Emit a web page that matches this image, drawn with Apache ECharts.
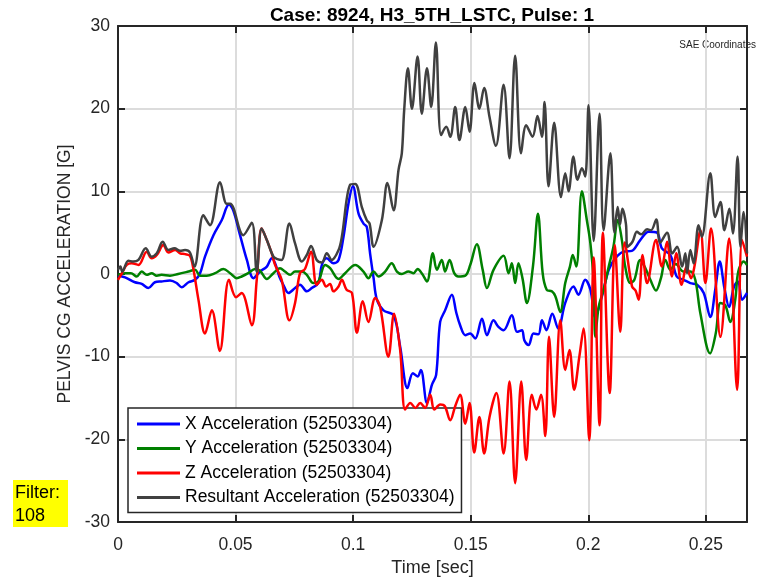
<!DOCTYPE html>
<html>
<head>
<meta charset="utf-8">
<script src="https://cdn.jsdelivr.net/npm/echarts@6/dist/echarts.min.js"></script>
<style>
  html, body { margin: 0; padding: 0; background: #ffffff; }
  #chart { width: 757px; height: 582px; }
</style>
</head>
<body>
<div id="chart"></div>
<script>
// Pelvis CG acceleration channels, [time (s), acceleration (G)]
const xAccel = [
  [0,-0.2],[0.003,-0.4],[0.0072,-1.0],[0.0101,-1.2],[0.0129,-1.7],[0.0157,-1.0],[0.0185,-0.9],
  [0.0221,-0.8],[0.025,-1.1],[0.0271,-1.6],[0.03,-1.0],[0.0328,-0.7],[0.0349,0.1],[0.037,2.1],
  [0.0406,4.7],[0.0441,6.5],[0.0472,8.4],[0.049,7.7],[0.0519,4.7],[0.0548,1.7],[0.0576,-0.5],
  [0.0604,0.3],[0.0633,0.9],[0.0654,1.9],[0.0668,1.3],[0.0686,-0.3],[0.0703,-1.3],[0.0725,-2.3],
  [0.0753,-1.7],[0.0774,-1.3],[0.0803,-2.1],[0.0824,-1.7],[0.0852,-1.1],[0.0867,1.1],[0.0888,1.9],
  [0.0916,1.3],[0.0938,1.7],[0.0959,4.5],[0.098,8.5],[0.0999,10.6],[0.1023,7.3],[0.1044,6.1],
  [0.1058,5.7],[0.1072,2.5],[0.1087,-0.5],[0.1101,-3.1],[0.1129,-4.4],[0.1172,-5.0],[0.12,-8.8],
  [0.1231,-13.8],[0.1254,-12.0],[0.1274,-12.4],[0.1288,-11.6],[0.1314,-15.6],[0.1335,-13.4],
  [0.1353,-12.2],[0.137,-5.8],[0.1391,-4.4],[0.142,-2.5],[0.1438,-4.6],[0.1455,-6.2],[0.1477,-7.4],
  [0.1498,-7.2],[0.1519,-7.8],[0.1548,-5.4],[0.1569,-7.4],[0.1597,-5.6],[0.1618,-6.4],[0.164,-6.8],
  [0.1675,-5.0],[0.1697,-7.0],[0.1718,-6.8],[0.1728,-8.0],[0.1746,-8.6],[0.1767,-7.2],[0.1788,-7.3],
  [0.1803,-5.6],[0.1822,-6.8],[0.1847,-4.8],[0.1872,-6.6],[0.1902,-3.5],[0.1937,-1.5],[0.1958,-2.5],
  [0.1987,-0.7],[0.2009,-1.9],[0.203,-5.2],[0.2058,-2.7],[0.2087,0.5],[0.2115,1.9],[0.215,2.7],
  [0.2185,2.8],[0.2221,4.1],[0.2257,5.1],[0.2292,5.0],[0.2313,3.1],[0.2349,2.3],[0.2376,-0.3],
  [0.2405,-0.7],[0.2434,-1.1],[0.2463,-1.3],[0.2491,-2.3],[0.2519,-5.2],[0.254,-1.9],[0.2559,1.5],
  [0.2579,-1.7],[0.2599,-4.0],[0.262,-1.5],[0.2637,-0.9],[0.2654,-3.1],[0.2675,-2.3]
];

const yAccel = [
  [0,-0.1],[0.003,0.1],[0.0055,0.1],[0.008,-0.3],[0.0101,0.3],[0.0122,-0.1],[0.0143,0.1],
  [0.0165,-0.2],[0.0185,-0.1],[0.0221,-0.2],[0.0256,0.0],[0.03,0.3],[0.0328,0.5],[0.0349,-0.2],
  [0.0377,-0.2],[0.0413,0.1],[0.0448,0.6],[0.0477,0.1],[0.0505,-0.5],[0.0526,-0.3],[0.0554,0.1],
  [0.0583,0.6],[0.0604,0.4],[0.0633,-0.6],[0.0661,0.1],[0.0689,0.7],[0.071,0.3],[0.0732,-0.1],
  [0.0753,0.3],[0.0782,0.3],[0.0803,-0.1],[0.0831,-1.1],[0.0852,-0.9],[0.0881,1.1],[0.0902,0.7],
  [0.0938,-0.6],[0.0966,0.1],[0.1009,1.1],[0.1044,0.3],[0.1065,-0.5],[0.1087,0.3],[0.1108,-0.3],
  [0.1136,0.3],[0.1164,1.3],[0.1186,0.3],[0.1207,0.0],[0.1235,0.3],[0.1257,0.1],[0.1274,0.6],
  [0.1294,0.0],[0.1314,-0.9],[0.1339,2.5],[0.1356,0.5],[0.1377,1.7],[0.1391,0.3],[0.141,1.7],
  [0.143,0.1],[0.1447,-0.3],[0.1477,-0.2],[0.1498,1.1],[0.1526,3.6],[0.1551,0.5],[0.1569,-1.7],
  [0.1597,0.5],[0.164,2.2],[0.1661,0.1],[0.1675,1.3],[0.1689,-1.1],[0.1703,1.3],[0.172,-0.5],
  [0.1739,-3.5],[0.1765,1.0],[0.1786,7.3],[0.1806,0.1],[0.1823,-1.9],[0.1845,-2.1],[0.186,-2.7],
  [0.1881,-4.6],[0.1902,-1.1],[0.1922,0.9],[0.1934,2.3],[0.1949,0.9],[0.1973,10.0],[0.1994,6.5],
  [0.2009,3.7],[0.2023,-1.1],[0.203,-7.6],[0.2044,-4.0],[0.2065,-1.9],[0.2087,0.9],[0.2107,3.3],
  [0.2125,6.5],[0.2143,4.1],[0.2157,0.9],[0.2179,-1.1],[0.2196,-0.7],[0.2221,1.7],[0.2243,0.7],
  [0.2264,-0.7],[0.2288,-2.0],[0.2309,-0.5],[0.2328,1.7],[0.2349,0.5],[0.2372,1.2],[0.2405,0.3],
  [0.2434,0.3],[0.2455,-0.7],[0.2477,-4.8],[0.2518,-9.6],[0.2542,-7.2],[0.2562,-3.5],[0.2583,-3.8],
  [0.2604,-5.8],[0.2625,-3.1],[0.2638,0.3],[0.2661,1.5],[0.2675,1.1]
];

const zAccel = [
  [0,-0.7],[0.0017,0.1],[0.0037,1.1],[0.0058,1.3],[0.0087,1.1],[0.0122,2.7],[0.0143,1.9],
  [0.0165,2.3],[0.0193,3.5],[0.0214,2.6],[0.0243,2.9],[0.0264,2.5],[0.0285,2.4],[0.0306,2.2],
  [0.032,0.7],[0.0342,-3.1],[0.037,-7.2],[0.0399,-4.4],[0.0433,-9.3],[0.0472,-0.7],[0.0502,-2.8],
  [0.0526,-2.3],[0.0569,-6.2],[0.059,-0.7],[0.0611,5.5],[0.0633,4.1],[0.0654,2.5],[0.0668,1.1],
  [0.0696,-0.7],[0.0729,-5.6],[0.0753,-3.5],[0.0774,0.1],[0.0795,0.6],[0.0821,2.7],[0.0845,-1.3],
  [0.0867,-0.7],[0.0885,-1.5],[0.0902,-1.2],[0.0916,-2.1],[0.0938,-1.5],[0.0952,-0.7],[0.0972,-1.9],
  [0.0995,-2.3],[0.1016,-7.1],[0.1041,-3.3],[0.1065,-5.8],[0.1094,-2.9],[0.1115,-4.0],[0.115,-10.0],
  [0.1174,-4.8],[0.12,-9.2],[0.1221,-16.4],[0.1243,-15.6],[0.1265,-16.2],[0.1285,-15.6],
  [0.1306,-16.2],[0.1328,-14.6],[0.1345,-16.4],[0.137,-15.8],[0.139,-16.0],[0.1413,-17.7],
  [0.1434,-16.0],[0.1455,-14.6],[0.1477,-18.1],[0.1495,-15.6],[0.1515,-21.6],[0.1537,-17.3],
  [0.1557,-21.7],[0.158,-17.3],[0.1609,-14.4],[0.164,-21.7],[0.1665,-13.0],[0.1689,-25.3],
  [0.1715,-13.0],[0.1736,-22.5],[0.176,-14.6],[0.1779,-16.4],[0.1799,-14.6],[0.1817,-19.6],
  [0.1833,-7.6],[0.1855,-17.3],[0.1881,-5.6],[0.1902,-11.6],[0.192,-9.2],[0.194,-14.0],
  [0.1962,-10.0],[0.198,-6.6],[0.2004,-20.1],[0.2023,2.0],[0.2048,-18.3],[0.2062,5.0],
  [0.2091,-14.4],[0.2113,3.5],[0.2136,-7.0],[0.2155,3.8],[0.2186,-1.5],[0.2201,-2.0],[0.2214,-3.1],
  [0.2231,2.3],[0.225,-1.1],[0.2288,4.1],[0.2313,0.9],[0.2335,3.9],[0.2356,-0.3],[0.2374,2.5],
  [0.2397,-1.3],[0.2418,0.9],[0.2437,-0.5],[0.2452,1.0],[0.2477,5.3],[0.2498,-1.1],[0.2522,5.5],
  [0.2562,-7.6],[0.2599,4.3],[0.2633,-14.0],[0.2654,4.1],[0.2675,2.1]
];

const resultantAccel = [
  [0,0.5],[0.001,0.9],[0.0018,0.3],[0.0044,1.6],[0.0065,1.5],[0.0087,1.7],[0.0118,3.1],[0.0143,2.1],
  [0.0165,2.5],[0.019,3.9],[0.0214,2.9],[0.024,3.1],[0.0264,2.8],[0.0285,2.9],[0.0306,2.6],
  [0.0325,0.9],[0.0363,7.1],[0.0391,5.9],[0.0434,11.1],[0.0462,8.5],[0.0477,8.5],[0.0533,4.7],
  [0.0569,6.2],[0.059,0.3],[0.0611,5.5],[0.0633,4.1],[0.0661,2.1],[0.0678,1.8],[0.0696,1.7],
  [0.0729,6.1],[0.0753,3.7],[0.0782,1.5],[0.0803,2.3],[0.0821,3.4],[0.0845,1.7],[0.0867,1.4],
  [0.0888,2.5],[0.0909,1.7],[0.0938,2.9],[0.0952,4.5],[0.0987,10.8],[0.1009,10.9],[0.1037,8.1],
  [0.1058,6.5],[0.107,6.1],[0.1087,3.3],[0.1122,6.5],[0.1146,11.0],[0.1172,7.7],[0.1193,12.6],
  [0.1207,14.6],[0.1217,19.8],[0.1233,24.9],[0.125,20.0],[0.1274,26.3],[0.1292,19.4],[0.1314,24.9],
  [0.1332,20.2],[0.1352,28.0],[0.1374,16.8],[0.1396,17.8],[0.1413,16.6],[0.1434,20.2],[0.1452,16.2],
  [0.1477,20.2],[0.1495,17.2],[0.1516,23.1],[0.1537,20.0],[0.1557,22.5],[0.158,19.0],[0.1607,15.5],
  [0.164,22.9],[0.1665,14.0],[0.1689,26.4],[0.1714,14.6],[0.1736,18.0],[0.1763,16.6],[0.1784,19.1],
  [0.1803,16.6],[0.1814,20.8],[0.1831,10.6],[0.1855,18.3],[0.1884,9.3],[0.1902,12.2],[0.1916,10.0],
  [0.1937,14.2],[0.1954,11.4],[0.1973,12.8],[0.1987,11.8],[0.2001,20.4],[0.2023,4.0],[0.2048,19.4],
  [0.2065,5.3],[0.2094,14.6],[0.2111,5.0],[0.2125,8.1],[0.2135,6.0],[0.2145,7.9],[0.216,6.1],
  [0.2167,3.3],[0.2188,3.9],[0.2207,5.1],[0.2225,4.8],[0.225,5.4],[0.2267,5.3],[0.2289,6.6],
  [0.2306,3.8],[0.2335,5.0],[0.2357,2.5],[0.2378,3.3],[0.2399,0.9],[0.2413,2.5],[0.242,0.1],
  [0.2434,2.9],[0.2448,1.3],[0.2469,5.9],[0.2483,4.5],[0.2519,12.2],[0.254,6.9],[0.2562,8.7],
  [0.2579,5.3],[0.26,7.9],[0.2615,4.9],[0.2635,14.2],[0.2647,3.3],[0.2661,7.5],[0.2675,2.5]
];

const channelNames = [
  'X Acceleration (52503304)',
  'Y Acceleration (52503304)',
  'Z Acceleration (52503304)',
  'Resultant Acceleration (52503304)'
];
const channelColors = ['#0000ff', '#008000', '#ff0000', '#404040'];
const channelData = [xAccel, yAccel, zAccel, resultantAccel];

const timeRange = [0, 0.2675];
const timeStep = 0.05;
const accelRange = [-30, 30];
const accelStep = 10;

const FONT = 'Liberation Sans, Arial, Helvetica, sans-serif';
const INK = '#262626';

function isMajor(v, step) {
  const r = v / step;
  return Math.abs(r - Math.round(r)) < 1e-6;
}

function axisBase(extra) {
  return Object.assign({
    type: 'value',
    axisLine: { show: true, onZero: false, lineStyle: { color: INK, width: 2 } },
    axisTick: { show: true, inside: true, length: 7, lineStyle: { color: INK, width: 2 } },
    splitLine: { show: false },
    axisLabel: { show: false }
  }, extra);
}

const chart = echarts.init(document.getElementById('chart'), null, { renderer: 'canvas' });

const option = {
  animation: false,
  backgroundColor: '#ffffff',
  grid: { left: 118, right: 10, top: 26, bottom: 60, containLabel: false },
  xAxis: [
    axisBase({
      position: 'bottom',
      min: timeRange[0], max: timeRange[1], interval: timeStep,
      name: 'Time [sec]', nameLocation: 'middle', nameGap: 37,
      nameTextStyle: { fontSize: 18, color: INK, fontFamily: FONT },
      splitLine: { show: true, lineStyle: { color: '#dcdcdc', width: 2 } },
      axisLabel: {
        show: true, fontSize: 17.5, color: INK, fontFamily: FONT, margin: 14,
        showMaxLabel: true,
        formatter: v => isMajor(v, timeStep) ? String(+v.toFixed(2)) : ''
      }
    }),
    axisBase({
      position: 'top',
      min: timeRange[0], max: timeRange[1], interval: timeStep
    })
  ],
  yAxis: [
    axisBase({
      position: 'left',
      min: accelRange[0], max: accelRange[1], interval: accelStep,
      name: 'PELVIS CG ACCELERATION [G]', nameLocation: 'middle', nameGap: 40,
      nameTextStyle: { fontSize: 17.5, color: INK, fontFamily: FONT },
      splitLine: { show: true, lineStyle: { color: '#dcdcdc', width: 2 } },
      axisLabel: { show: true, fontSize: 17.5, color: INK, fontFamily: FONT, margin: 8 }
    }),
    axisBase({
      position: 'right',
      min: accelRange[0], max: accelRange[1], interval: accelStep
    })
  ],
  legend: {
    orient: 'vertical',
    left: 128, top: 408,
    backgroundColor: '#ffffff',
    borderColor: INK, borderWidth: 1.5,
    padding: [7, 7, 6, 9],
    itemGap: 6.5,
    itemWidth: 43, itemHeight: 3,
    icon: 'rect',
    selectedMode: false,
    textStyle: { fontSize: 17.5, color: '#000000', fontFamily: FONT },
    data: channelNames
  },
  series: channelNames.map((name, i) => ({
    name: name,
    type: 'line',
    xAxisIndex: 0,
    yAxisIndex: 0,
    data: channelData[i],
    smooth: 0.35,
    showSymbol: false,
    symbol: 'none',
    clip: true,
    color: channelColors[i],
    lineStyle: { color: channelColors[i], width: 2.5 },
    z: 2 + i
  })),
  graphic: [
    {
      type: 'text',
      x: 432, y: 6,
      style: {
        text: 'Case: 8924, H3_5TH_LSTC, Pulse: 1',
        fill: '#000000',
        font: 'bold 19px ' + FONT,
        textAlign: 'center',
        textVerticalAlign: 'top'
      }
    },
    {
      type: 'text',
      x: 756, y: 40,
      style: {
        text: 'SAE Coordinates',
        fill: INK,
        font: '10px ' + FONT,
        textAlign: 'right',
        textVerticalAlign: 'top'
      }
    },
    {
      type: 'rect',
      left: 13, top: 480,
      shape: { width: 55, height: 47 },
      style: { fill: '#ffff00' }
    },
    {
      type: 'text',
      x: 15, y: 482,
      style: {
        text: 'Filter:\n108',
        fill: '#000000',
        font: '18px ' + FONT,
        lineHeight: 23,
        textVerticalAlign: 'top'
      }
    }
  ]
};

chart.setOption(option);
</script>
</body>
</html>
